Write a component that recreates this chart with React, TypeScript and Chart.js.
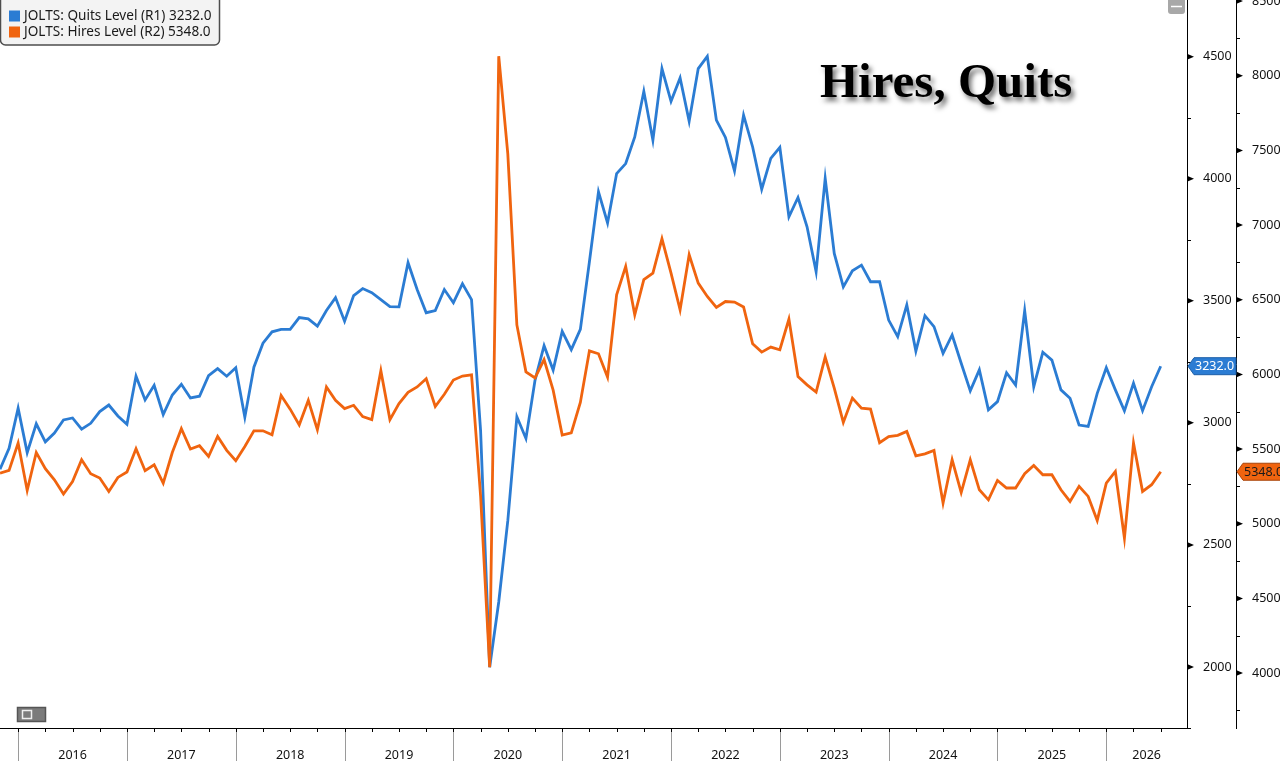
import React, { useEffect, useRef } from 'react';
import Chart from 'chart.js/auto';

// monthly JOLTS levels (thousands), first observation Nov 2015
const startYear = 2015;
const startMonth = 11;
const yearLabels = ['2016', '2017', '2018', '2019', '2020', '2021', '2022', '2023', '2024', '2025', '2026'];

const quitsLevel = [
  2810, 2896, 3060, 2878, 2996, 2922, 2958, 3012, 3020, 2974, 2998, 3046,
  3073, 3028, 2994, 3191, 3094, 3154, 3034, 3114, 3158, 3102, 3109, 3193,
  3222, 3191, 3226, 3023, 3228, 3326, 3373, 3383, 3383, 3431, 3426, 3396,
  3460, 3513, 3416, 3521, 3550, 3533, 3505, 3476, 3475, 3656, 3546, 3451,
  3460, 3546, 3492, 3570, 3505, 2967, 1999, 2266, 2599, 3025, 2936, 3174,
  3316, 3216, 3375, 3300, 3383, 3660, 3946, 3819, 4021, 4062, 4171, 4358,
  4158, 4451, 4317, 4413, 4235, 4451, 4501, 4240, 4169, 4032, 4260, 4130,
  3957, 4083, 4128, 3844, 3923, 3803, 3619, 4001, 3694, 3557, 3623, 3646,
  3578, 3578, 3421, 3353, 3483, 3294, 3439, 3394, 3285, 3360, 3244, 3131,
  3217, 3053, 3087, 3205, 3155, 3459, 3148, 3289, 3257, 3135, 3101, 2991,
  2985, 3121, 3226, 3135, 3049, 3162, 3050, 3148, 3232,
];

const hiresLevel = [
  5339, 5357, 5540, 5223, 5477, 5368, 5294, 5199, 5283, 5428, 5335, 5306,
  5216, 5310, 5346, 5502, 5355, 5395, 5272, 5477, 5636, 5500, 5522, 5450,
  5584, 5491, 5422, 5517, 5622, 5622, 5596, 5859, 5767, 5662, 5826, 5629,
  5916, 5826, 5771, 5793, 5717, 5697, 6025, 5697, 5804, 5880, 5916, 5971,
  5785, 5867, 5962, 5989, 5997, 5185, 4039, 8131, 7477, 6331, 6017, 5976,
  6099, 5894, 5594, 5608, 5812, 6157, 6138, 5982, 6533, 6723, 6399, 6634,
  6678, 6908, 6678, 6433, 6801, 6611, 6522, 6448, 6488, 6484, 6451, 6205,
  6149, 6183, 6165, 6370, 5986, 5930, 5882, 6116, 5908, 5678, 5841, 5774,
  5768, 5542, 5584, 5592, 5618, 5455, 5468, 5491, 5138, 5428, 5209, 5428,
  5227, 5160, 5290, 5239, 5239, 5335, 5390, 5328, 5328, 5227, 5149, 5250,
  5183, 5022, 5272, 5350, 4904, 5540, 5216, 5261, 5348,
];

const quitsAxisTicks = [1750, 2000, 2250, 2500, 2750, 3000, 3250, 3500, 3750, 4000, 4250, 4500];
const hiresAxisTicks = [
  3750, 4000, 4250, 4500, 4750, 5000, 5250, 5500, 5750, 6000,
  6250, 6500, 6750, 7000, 7250, 7500, 7750, 8000, 8250, 8500,
];

const BLUE = '#2b7cd3';
const ORANGE = '#f0640f';
const X_MAX = 130.9;
const FONT = 'Noto Sans';

// month index of January of each labelled year
const janIndex = (k: number) => (Number(yearLabels[k]) - startYear) * 12 + (1 - startMonth);
const yearMid = (k: number) =>
  k < yearLabels.length - 1 ? janIndex(k) + 6 : (janIndex(k) + X_MAX) / 2;

const axisMarks = {
  id: 'axisMarks',
  afterDraw(chart: any) {
    const { ctx, chartArea, scales } = chart;
    const x = scales.x;
    ctx.save();
    // year separators and quarter ticks
    yearLabels.forEach((_, k) => {
      const jan = janIndex(k);
      const px = Math.round(x.getPixelForValue(jan)) + 0.5;
      ctx.strokeStyle = '#9a9a9a';
      ctx.lineWidth = 1;
      ctx.beginPath();
      ctx.moveTo(px, chartArea.bottom);
      ctx.lineTo(px, chart.height);
      ctx.stroke();
      ctx.strokeStyle = '#000';
      for (let q = 0; q < 4; q++) {
        const v = jan + q * 3;
        if (v > X_MAX) break;
        const qx = Math.round(x.getPixelForValue(v)) + 0.5;
        ctx.beginPath();
        ctx.moveTo(qx, chartArea.bottom);
        ctx.lineTo(qx, chartArea.bottom + 4);
        ctx.stroke();
      }
    });
    // right axis markers: triangles for labelled ticks, short dashes for the rest
    ['y', 'y2'].forEach((id) => {
      const s = scales[id];
      const ax = s.left;
      s.ticks.forEach((t: any) => {
        const py = s.getPixelForValue(t.value);
        ctx.fillStyle = '#000';
        ctx.strokeStyle = '#000';
        if (t.value % 500 === 0) {
          ctx.beginPath();
          ctx.moveTo(ax, py - 3);
          ctx.lineTo(ax + 7, py);
          ctx.lineTo(ax, py + 3);
          ctx.closePath();
          ctx.fill();
        } else {
          ctx.beginPath();
          ctx.moveTo(ax, Math.round(py) + 0.5);
          ctx.lineTo(ax + 4, Math.round(py) + 0.5);
          ctx.stroke();
        }
      });
    });
    ctx.restore();
  },
};

const drawTag = (ctx: CanvasRenderingContext2D, left: number, yc: number, w: number,
  fill: string, stroke: string, color: string, text: string) => {
  ctx.beginPath();
  ctx.moveTo(left, yc);
  ctx.lineTo(left + 6, yc - 8.5);
  ctx.lineTo(left + w, yc - 8.5);
  ctx.lineTo(left + w, yc + 8.5);
  ctx.lineTo(left + 6, yc + 8.5);
  ctx.closePath();
  ctx.fillStyle = fill;
  ctx.fill();
  ctx.strokeStyle = stroke;
  ctx.lineWidth = 1;
  ctx.stroke();
  ctx.fillStyle = color;
  ctx.font = `12.5px "${FONT}"`;
  ctx.textBaseline = 'middle';
  ctx.textAlign = 'left';
  ctx.fillText(text, left + 7, yc + 0.5);
};

const overlays = {
  id: 'overlays',
  afterDraw(chart: any) {
    const { ctx, scales } = chart;
    ctx.save();

    // last value tags on the axes
    const q = quitsLevel[quitsLevel.length - 1];
    const h = hiresLevel[hiresLevel.length - 1];
    drawTag(ctx, scales.y.left + 1, scales.y.getPixelForValue(q), 48, BLUE, '#1d5fa8', '#fff', q.toFixed(1));
    drawTag(ctx, scales.y2.left + 1, scales.y2.getPixelForValue(h), 50, ORANGE, '#a9440a', '#1a1a1a', h.toFixed(1));

    // legend box
    ctx.beginPath();
    ctx.roundRect(0.5, -6, 219, 51, 5);
    ctx.fillStyle = '#f3f3f3';
    ctx.fill();
    ctx.lineWidth = 1.5;
    ctx.strokeStyle = '#4d4d4d';
    ctx.stroke();
    chart.data.datasets.forEach((ds: any, i: number) => {
      const yc = 16 + i * 16;
      ctx.fillStyle = ds.borderColor;
      ctx.fillRect(9, yc - 5.5, 11, 11);
      const last = ds.data[ds.data.length - 1].y;
      ctx.fillStyle = '#1a1a1a';
      ctx.font = `13.6px "${FONT}"`;
      ctx.textBaseline = 'middle';
      ctx.fillText(`${ds.label} ${last.toFixed(1)}`, 24, yc + 0.5);
    });

    // small toolbar icons
    ctx.fillStyle = '#a8a8a8';
    ctx.beginPath();
    ctx.roundRect(1168, -3, 17, 17, 3);
    ctx.fill();
    ctx.strokeStyle = '#fff';
    ctx.beginPath();
    ctx.moveTo(1171, 6.5);
    ctx.lineTo(1182, 6.5);
    ctx.stroke();
    ctx.fillStyle = '#7b7b7b';
    ctx.fillRect(17, 707, 29, 15);
    ctx.strokeStyle = '#555';
    ctx.strokeRect(17.5, 707.5, 28, 14);
    ctx.strokeStyle = '#eee';
    ctx.strokeRect(22.5, 710.5, 9, 8);

    // title
    ctx.font = 'bold 49px "Liberation Serif"';
    ctx.textBaseline = 'alphabetic';
    ctx.shadowColor = 'rgba(0,0,0,0.55)';
    ctx.shadowBlur = 5;
    ctx.shadowOffsetX = 3;
    ctx.shadowOffsetY = 4;
    ctx.fillStyle = '#000';
    ctx.fillText('Hires, Quits', 820, 97);
    ctx.restore();
  },
};

const App: React.FC = () => {
  const chartRef = useRef<HTMLCanvasElement>(null);

  useEffect(() => {
    document.body.style.margin = '0';
    if (!chartRef.current) return;
    const tickFont = { family: FONT, size: 12.5 };
    const chart = new Chart(chartRef.current, {
      type: 'line',
      data: {
        datasets: [
          {
            label: 'JOLTS: Quits Level (R1)',
            data: quitsLevel.map((y, x) => ({ x, y })),
            borderColor: BLUE,
            backgroundColor: BLUE,
            borderWidth: 2.8,
            pointRadius: 0,
            yAxisID: 'y',
            order: 1,
          },
          {
            label: 'JOLTS: Hires Level (R2)',
            data: hiresLevel.map((y, x) => ({ x, y })),
            borderColor: ORANGE,
            backgroundColor: ORANGE,
            borderWidth: 2.8,
            pointRadius: 0,
            yAxisID: 'y2',
            order: 0,
          },
        ],
      },
      options: {
        responsive: true,
        maintainAspectRatio: false,
        animation: false,
        events: [],
        layout: { padding: 0 },
        plugins: { legend: { display: false }, tooltip: { enabled: false } },
        scales: {
          x: {
            type: 'linear',
            min: 0,
            max: X_MAX,
            afterBuildTicks: (s: any) => {
              s.ticks = yearLabels.map((_, k) => ({ value: yearMid(k) }));
            },
            ticks: {
              autoSkip: false,
              maxRotation: 0,
              padding: 12,
              color: '#111',
              font: { family: FONT, size: 12.5 },
              callback: (_v: any, i: number) => yearLabels[i],
            },
            grid: { display: false },
            border: { display: true, color: '#000', width: 1 },
            afterFit: (s: any) => {
              s.height = 33;
              s.paddingLeft = 0;
              s.paddingRight = 0;
            },
          },
          y: {
            type: 'linear',
            position: 'right',
            weight: 0,
            min: 1750,
            max: 4732,
            afterBuildTicks: (s: any) => {
              s.ticks = quitsAxisTicks.map((value) => ({ value }));
            },
            ticks: {
              autoSkip: false,
              padding: 8,
              color: '#111',
              font: tickFont,
              callback: (v: any) => (v % 500 === 0 ? String(v) : ''),
            },
            grid: { display: false },
            border: { display: true, color: '#000', width: 1 },
            afterFit: (s: any) => {
              s.width = 49;
              s.paddingTop = 0;
              s.paddingBottom = 0;
            },
          },
          y2: {
            type: 'linear',
            position: 'right',
            weight: 1,
            min: 3632,
            max: 8507,
            afterBuildTicks: (s: any) => {
              s.ticks = hiresAxisTicks.map((value) => ({ value }));
            },
            ticks: {
              autoSkip: false,
              padding: 8,
              color: '#111',
              font: tickFont,
              callback: (v: any) => (v % 500 === 0 ? String(v) : ''),
            },
            grid: { display: false },
            border: { display: true, color: '#000', width: 1 },
            afterFit: (s: any) => {
              s.width = 44;
              s.paddingTop = 0;
              s.paddingBottom = 0;
            },
          },
        },
      },
      plugins: [axisMarks, overlays],
    });
    return () => {
      chart.destroy();
    };
  }, []);

  return (
    <div style={{ width: '1280px', height: '761px', position: 'relative', background: '#fff' }}>
      <canvas ref={chartRef} />
    </div>
  );
};

export default App;
